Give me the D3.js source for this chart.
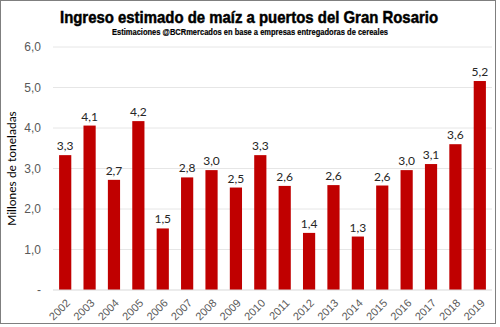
<!DOCTYPE html>
<meta charset="utf-8">
<style>
body { margin: 0; background: #fff; }
svg { font-family: Lato, "Open Sans", sans-serif; }
.title { font-family: "Liberation Sans", Arial, sans-serif; font-weight: bold; }
.tick text { fill: #595959; font-size: 12px; }
</style>
<body>
<script src="https://cdn.jsdelivr.net/npm/d3@7"></script>
<script>

// data (millions of tonnes)
var years = ["2002","2003","2004","2005","2006","2007","2008","2009","2010",
             "2011","2012","2013","2014","2015","2016","2017","2018","2019"];
var values = [3.33, 4.06, 2.72, 4.17, 1.52, 2.78, 2.96, 2.53, 3.33,
              2.57, 1.41, 2.59, 1.32, 2.58, 2.96, 3.11, 3.60, 5.16];
var yTicks = [0, 1, 2, 3, 4, 5, 6];

var W = 500, H = 327;
var margin = {top: 47, right: 8, bottom: 37, left: 53},
    width = W - margin.left - margin.right,
    height = H - margin.top - margin.bottom;

var fmt = function(v) { return v.toFixed(1).replace(".", ","); };

var svg = d3.select("body").append("svg")
    .attr("width", W)
    .attr("height", H);

// outer frame
svg.append("rect")
    .attr("x", 0.5).attr("y", 0.5)
    .attr("width", 495).attr("height", 323)
    .attr("fill", "none")
    .attr("stroke", "#7f7f7f");

// titles squeezed to the width of the condensed face in the original
svg.append("text")
    .attr("class", "title")
    .attr("x", 60).attr("y", 23)
    .attr("textLength", 378)
    .attr("lengthAdjust", "spacingAndGlyphs")
    .style("font-size", "17px")
    .attr("fill", "#000")
    .attr("stroke", "#000")
    .attr("stroke-width", 0.5)
    .text("Ingreso estimado de maíz a puertos del Gran Rosario");

svg.append("text")
    .attr("class", "title")
    .attr("x", 112).attr("y", 35)
    .attr("textLength", 276)
    .attr("lengthAdjust", "spacingAndGlyphs")
    .style("font-size", "9px")
    .attr("fill", "#000")
    .attr("stroke", "#000")
    .attr("stroke-width", 0.2)
    .text("Estimaciones @BCRmercados en base a empresas entregadoras de cereales");

var g = svg.append("g")
    .attr("transform", "translate(" + margin.left + "," + margin.top + ")");

var x = d3.scaleBand().domain(years).range([0, width]).paddingInner(0.5).paddingOuter(0.25);
var y = d3.scaleLinear().domain([0, 6]).range([height, 0]);

// gridlines
g.selectAll(".grid")
    .data(yTicks.slice(1))
  .enter().append("line")
    .attr("x1", 0).attr("x2", width)
    .attr("y1", function(d) { return y(d); })
    .attr("y2", function(d) { return y(d); })
    .attr("stroke", "#e6e6e6");

// y axis
var yAxis = g.append("g")
    .call(d3.axisLeft(y).tickValues(yTicks).tickSize(0).tickPadding(12)
      .tickFormat(function(d) { return d === 0 ? "-" : fmt(d); }));
yAxis.select(".domain").remove();

// bars
g.selectAll(".bar")
    .data(values)
  .enter().append("rect")
    .attr("class", "bar")
    .attr("x", function(d, i) { return x(years[i]); })
    .attr("width", x.bandwidth())
    .attr("y", function(d) { return y(d); })
    .attr("height", function(d) { return height - y(d); })
    .attr("fill", "#c00000");

// value labels
g.selectAll(".lbl")
    .data(values)
  .enter().append("text")
    .attr("x", function(d, i) { return x(years[i]) + x.bandwidth() / 2; })
    .attr("y", function(d) { return y(d) - 5; })
    .attr("text-anchor", "middle")
    .style("font-size", "12px")
    .attr("fill", "#262626")
    .text(function(d) { return fmt(d); });

// baseline
g.append("line")
    .attr("x1", 0).attr("x2", width)
    .attr("y1", height).attr("y2", height)
    .attr("stroke", "#d9d9d9");

// x axis, labels turned 45 degrees
var xAxis = g.append("g")
    .attr("transform", "translate(0," + height + ")")
    .call(d3.axisBottom(x).tickSize(0));
xAxis.select(".domain").remove();
xAxis.selectAll(".tick text")
    .attr("x", 0)
    .attr("y", 0)
    .attr("dy", "0.35em")
    .attr("fill", "#262626")
    .style("font-size", "11px")
    .style("text-anchor", "end")
    .attr("transform", "translate(3,11) rotate(-45)");

// y label
svg.append("text")
    .attr("transform", "translate(16," + (margin.top + height / 2) + ") rotate(-90)")
    .attr("text-anchor", "middle")
    .style("font-size", "12px")
    .attr("fill", "#000")
    .text("Millones de toneladas");

</script>
</body>
